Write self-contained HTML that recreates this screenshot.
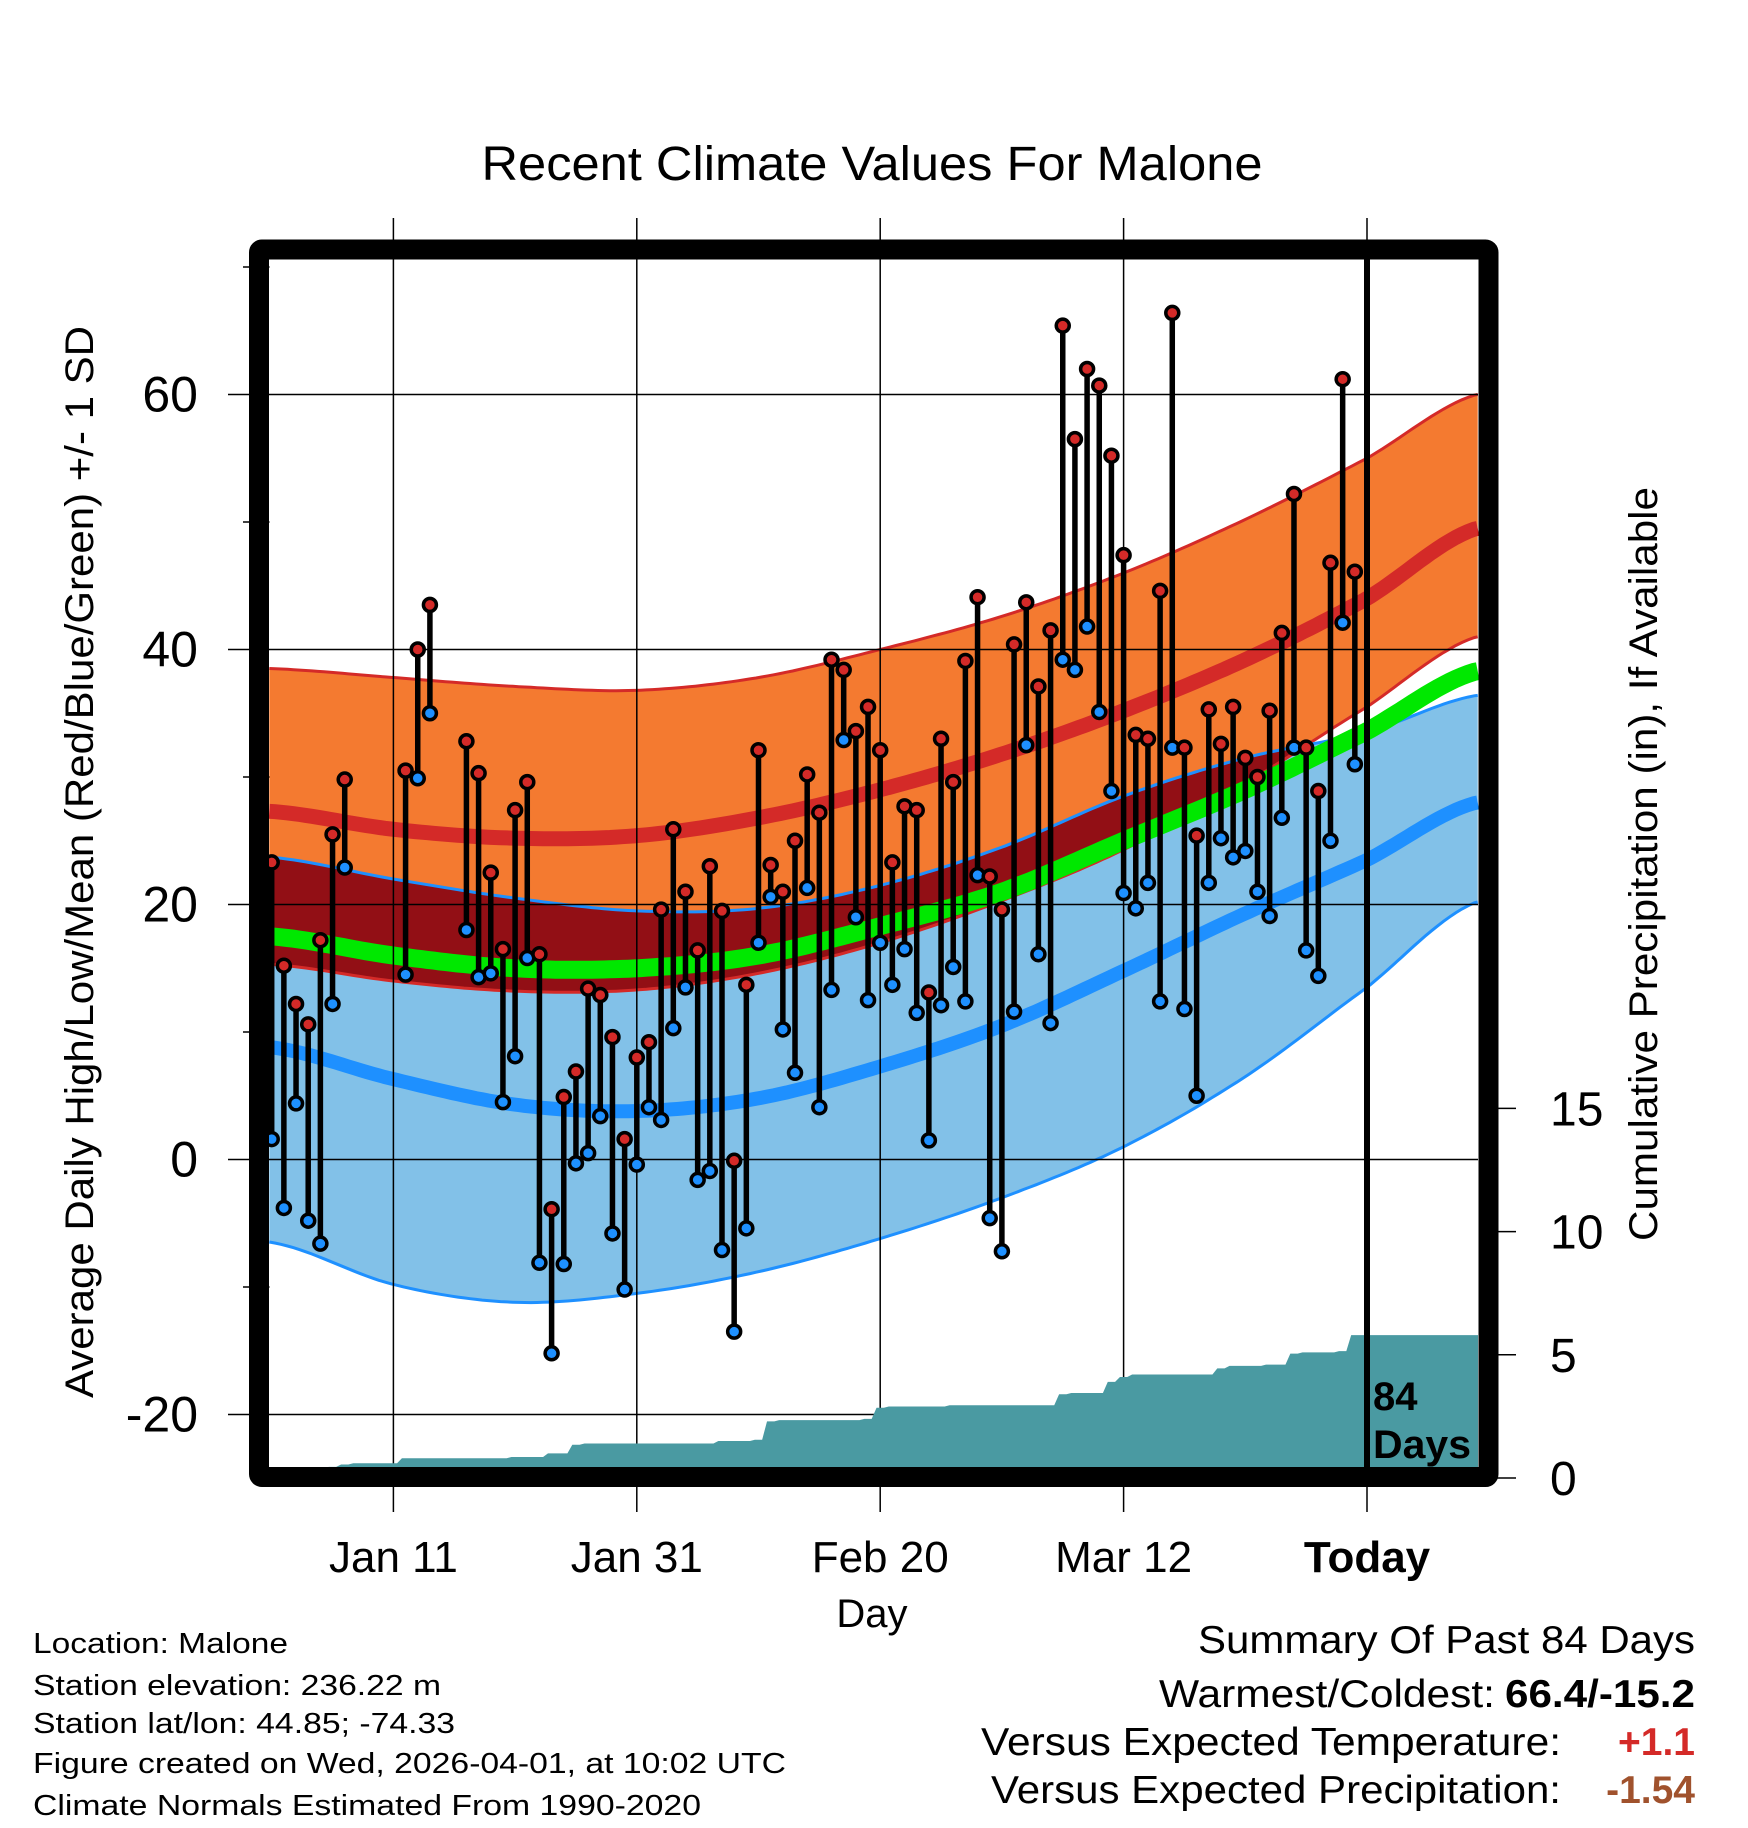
<!DOCTYPE html>
<html><head><meta charset="utf-8"><style>
html,body{margin:0;padding:0;background:#fff}
svg{display:block;font-family:"Liberation Sans",sans-serif}
</style></head><body>
<svg id="chart" xmlns="http://www.w3.org/2000/svg" width="1748" height="1828" viewBox="0 0 1748 1828">
<rect x="0" y="0" width="1748" height="1828" fill="#fff"/>
<g id="bands"></g>
<g id="grid"></g>
<g id="precip"></g>
<g id="marks"></g>
<g id="frame"></g>
<text x="872" y="180" font-size="48" text-anchor="middle" textLength="781" lengthAdjust="spacingAndGlyphs">Recent Climate Values For Malone</text>
<text transform="translate(93,862) rotate(-90)" font-size="40" text-anchor="middle" textLength="1072" lengthAdjust="spacingAndGlyphs">Average Daily High/Low/Mean (Red/Blue/Green) +/- 1 SD</text>
<text transform="translate(1657,864) rotate(-90)" font-size="40" text-anchor="middle" textLength="754" lengthAdjust="spacingAndGlyphs">Cumulative Precipitation (in), If Available</text>
<text x="872" y="1627" font-size="40" text-anchor="middle">Day</text>
<text x="1373" y="1410" font-size="40" font-weight="bold">84</text>
<text x="1373" y="1458" font-size="40" font-weight="bold" textLength="98" lengthAdjust="spacingAndGlyphs">Days</text>
<g font-size="29">
<text x="33" y="1653" textLength="255" lengthAdjust="spacingAndGlyphs">Location: Malone</text>
<text x="33" y="1695" textLength="408" lengthAdjust="spacingAndGlyphs">Station elevation: 236.22 m</text>
<text x="33" y="1733" textLength="422" lengthAdjust="spacingAndGlyphs">Station lat/lon: 44.85; -74.33</text>
<text x="33" y="1773" textLength="753" lengthAdjust="spacingAndGlyphs">Figure created on Wed, 2026-04-01, at 10:02 UTC</text>
<text x="33" y="1815" textLength="668" lengthAdjust="spacingAndGlyphs">Climate Normals Estimated From 1990-2020</text>
</g>
<g font-size="39">
<text x="1695" y="1653" text-anchor="end" textLength="497" lengthAdjust="spacingAndGlyphs">Summary Of Past 84 Days</text>
<text x="1495" y="1707" text-anchor="end" textLength="336" lengthAdjust="spacingAndGlyphs">Warmest/Coldest:</text>
<text x="1695" y="1707" text-anchor="end" font-weight="bold" textLength="190" lengthAdjust="spacingAndGlyphs">66.4/-15.2</text>
<text x="1561" y="1755" text-anchor="end" textLength="580" lengthAdjust="spacingAndGlyphs">Versus Expected Temperature:</text>
<text x="1695" y="1755" text-anchor="end" font-weight="bold" fill="#d42a28">+1.1</text>
<text x="1561" y="1803" text-anchor="end" textLength="570" lengthAdjust="spacingAndGlyphs">Versus Expected Precipitation:</text>
<text x="1695" y="1803" text-anchor="end" font-weight="bold" fill="#a0522d">-1.54</text>
</g>
</svg>
<script>
// ---- data ----
const obsDays = [0,1,2,3,4,5,6,11,12,13,16,17,18,19,20,21,22,23,24,25,26,27,28,29,30,31,32,33,34,35,36,37,38,39,40,41,42,43,44,45,46,47,48,49,50,51,52,53,54,55,56,57,58,59,60,61,62,63,64,65,66,67,68,69,70,71,72,73,74,75,76,77,78,79,80,81,82,83,84,85,86,87,88,89];
const highs = [23.3,15.2,12.2,10.6,17.2,25.5,29.8,30.5,40.0,43.5,32.8,30.3,22.5,16.5,27.4,29.6,16.1,-3.9,4.9,6.9,13.4,12.9,9.6,1.6,8.0,9.2,19.6,25.9,21.0,16.4,23.0,19.5,-0.1,13.7,32.1,23.1,21.0,25.0,30.2,27.2,39.2,38.4,33.6,35.5,32.1,23.3,27.7,27.4,13.1,33.0,29.6,39.1,44.1,22.2,19.6,40.4,43.7,37.1,41.5,65.4,56.5,62.0,60.7,55.2,47.4,33.3,33.0,44.6,66.4,32.3,25.4,35.3,32.6,35.5,31.5,30.0,35.2,41.3,52.2,32.3,28.9,46.8,61.2,46.1];
const lows = [1.6,-3.8,4.4,-4.8,-6.6,12.2,22.9,14.5,29.9,35.0,18.0,14.3,14.6,4.5,8.1,15.8,-8.1,-15.2,-8.2,-0.3,0.5,3.4,-5.8,-10.2,-0.4,4.1,3.1,10.3,13.5,-1.6,-0.9,-7.1,-13.5,-5.4,17.0,20.6,10.2,6.8,21.3,4.1,13.3,32.9,19.0,12.5,17.0,13.7,16.5,11.5,1.5,12.1,15.1,12.4,22.3,-4.6,-7.2,11.6,32.5,16.1,10.7,39.2,38.4,41.8,35.1,28.9,20.9,19.7,21.7,12.4,32.3,11.8,5.0,21.7,25.2,23.7,24.2,21.0,19.1,26.8,32.3,16.4,14.4,25.0,42.1,31.0];
const precipCum = [0,0,0,0,0,0.45,0.55,0.6,0.6,0.6,0.6,0.8,0.8,0.8,0.8,0.8,0.8,0.8,0.8,0.8,0.85,0.85,0.85,1.0,1.0,1.35,1.4,1.4,1.4,1.4,1.4,1.4,1.4,1.4,1.4,1.4,1.4,1.5,1.5,1.5,1.55,2.3,2.35,2.35,2.35,2.35,2.35,2.35,2.35,2.4,2.85,2.9,2.9,2.9,2.9,2.9,2.95,2.95,2.95,2.95,2.95,2.95,2.95,2.95,2.95,3.4,3.45,3.45,3.45,3.9,4.1,4.2,4.2,4.2,4.2,4.2,4.2,4.2,4.45,4.55,4.55,4.55,4.6,4.6,5.05,5.1,5.1,5.1,5.15,5.8];
const normDays = [0,10,20,30,40,50,60,70,80,90,99];
const hiPlus  = [38.5,37.8,37.1,36.8,37.8,40.0,42.6,46.0,50.2,55.0,60.0];
const hiMean  = [27.3,25.9,25.2,25.4,26.8,29.0,31.8,35.2,39.2,44.0,49.5];
const hiMinus = [15.3,14.0,13.2,13.3,14.6,17.0,20.3,24.3,29.5,35.5,41.0];
const avgMean = [17.5,16.0,15.0,15.0,16.0,18.3,21.0,25.0,29.0,33.6,38.3];
const loPlus  = [23.7,22.0,20.5,19.5,19.7,21.5,24.5,28.5,31.5,33.5,36.4];
const loMean  = [8.8,6.3,4.3,3.8,4.8,7.3,10.5,14.8,19.3,23.5,28.0];
const loMinus = [-6.5,-9.8,-11.2,-10.5,-8.8,-6.2,-3.0,1.0,6.5,13.5,20.2];
const yTicks = [-20,0,20,40,60];
const yMinor = [-10,10,30,50,70];
const precipTicks = [0,5,10,15];
const xTickDays = [10,30,50,70,90];
const xTickLabels = ["Jan 11","Jan 31","Feb 20","Mar 12","Today"];
const todayDay = 90;

// ---- scales ----
const NS="http://www.w3.org/2000/svg";
const PL=269.5,PR=1478,PT=259,PB=1468;
const xs=d=>271.7+d*12.17;
const ys=v=>1159.5-v*12.75;
const yp=p=>1478-p*24.64;
function mk(tag,attrs,parent){const e=document.createElementNS(NS,tag);for(const k in attrs)e.setAttribute(k,attrs[k]);parent.appendChild(e);return e;}
function interp(arr,d){for(let i=0;i<normDays.length-1;i++){if(d<=normDays[i+1]){const t=(d-normDays[i])/(normDays[i+1]-normDays[i]);
 const p0=arr[Math.max(i-1,0)],p1=arr[i],p2=arr[i+1],p3=arr[Math.min(i+2,arr.length-1)];
 const t2=t*t,t3=t2*t;return 0.5*((2*p1)+(-p0+p2)*t+(2*p0-5*p1+4*p2-p3)*t2+(-p0+3*p1-3*p2+p3)*t3);}}return arr[arr.length-1];}
const samp=[];for(let d=-0.2;d<=99.15;d+=0.5)samp.push(d);samp.push(99.1);
const line=arr=>samp.map(d=>xs(d).toFixed(1)+","+ys(interp(arr,d)).toFixed(1)).join(" ");
const band=(a,b)=>line(a)+" "+samp.slice().reverse().map(d=>xs(d).toFixed(1)+","+ys(interp(b,d)).toFixed(1)).join(" ");

const bands=document.getElementById('bands');
const ob=mk('polygon',{points:band(hiPlus,hiMinus),fill:'#f47a30'},bands);


const bb=mk('polygon',{points:band(loPlus,loMinus),fill:'#82c1e8'},bands);


// overlap
const ovTop=[],ovBot=[];
samp.forEach(d=>{const t=Math.min(interp(hiPlus,d),interp(loPlus,d));const b=Math.max(interp(hiMinus,d),interp(loMinus,d));const b2=Math.min(b,t);ovTop.push(xs(d).toFixed(1)+","+ys(t).toFixed(1));ovBot.unshift(xs(d).toFixed(1)+","+ys(b2).toFixed(1));});
const ov=mk('polygon',{points:ovTop.concat(ovBot).join(" "),fill:'#920f15'},bands);


const edges=[[hiPlus,'#d42a28',3,'high-plus-sd-line'],[hiMinus,'#d42a28',3,'high-minus-sd-line'],[loPlus,'#1e90ff',3,'low-plus-sd-line'],[loMinus,'#1e90ff',3,'low-minus-sd-line'],[hiMean,'#d42a28',15,'mean-high-line'],[loMean,'#1e90ff',14,'mean-low-line'],[avgMean,'#00e800',18,'mean-temp-line']];
edges.forEach(e=>{const p=mk('polyline',{points:line(e[0]),fill:'none',stroke:e[1],'stroke-width':e[2]},bands);

});

// grid
const grid=document.getElementById('grid');
yTicks.forEach(v=>{const g=mk('line',{x1:228,x2:PR,y1:ys(v),y2:ys(v),stroke:'#000','stroke-width':1.5},grid);


const t=mk('text',{x:198,y:ys(v)+17,'font-size':50,'text-anchor':'end'},grid);t.textContent=v;

});
yMinor.forEach(v=>{const g=mk('line',{x1:243,x2:PL,y1:ys(v),y2:ys(v),stroke:'#000','stroke-width':1.5},grid);

});
xTickDays.forEach((d,i)=>{const bold=i===4;
const g=mk('line',{x1:xs(d),x2:xs(d),y1:218,y2:1512,stroke:'#000','stroke-width':1.5},grid);


const t=mk('text',{x:xs(d),y:1572,'font-size':44,'text-anchor':'middle','font-weight':bold?'bold':'normal'},grid);t.textContent=xTickLabels[i];

});
precipTicks.forEach(p=>{const g=mk('line',{x1:1492,x2:1516,y1:yp(p),y2:yp(p),stroke:'#000','stroke-width':1.5},grid);


const t=mk('text',{x:1550,y:yp(p)+17,'font-size':48},grid);t.textContent=p;

});

// precip area
const pg=document.getElementById('precip');
const ppts=[xs(-0.2)+","+PB];
precipCum.forEach((p,i)=>{const y=Math.min(yp(p),PB);ppts.push(xs(i-0.3)+","+y,xs(i+0.3)+","+y);});
const lastP=precipCum[precipCum.length-1];
ppts.push(PR+","+yp(lastP),PR+","+PB);
const pa=mk('polygon',{points:ppts.join(" "),fill:'#4a9aa2'},pg);



// marks
const mg=document.getElementById('marks');
obsDays.forEach((d,i)=>{const x=xs(d);
const s=mk('line',{x1:x,x2:x,y1:ys(highs[i]),y2:ys(lows[i]),stroke:'#000','stroke-width':5.5},mg);

});
const todayLine=mk('line',{x1:xs(todayDay),x2:xs(todayDay),y1:PT,y2:PB,stroke:'#000','stroke-width':6},mg);


obsDays.forEach((d,i)=>{const x=xs(d);
const lo=mk('circle',{cx:x,cy:ys(lows[i]),r:6.5,fill:'#1e90ff',stroke:'#000','stroke-width':3.5},mg);


const hi=mk('circle',{cx:x,cy:ys(highs[i]),r:6.5,fill:'#d42a28',stroke:'#000','stroke-width':3.5},mg);

});

// frame
const fr=mk('rect',{x:259,y:249.5,width:1229.5,height:1227.5,fill:'none',stroke:'#000','stroke-width':20,rx:3},document.getElementById('frame'));


</script>
</body></html>
